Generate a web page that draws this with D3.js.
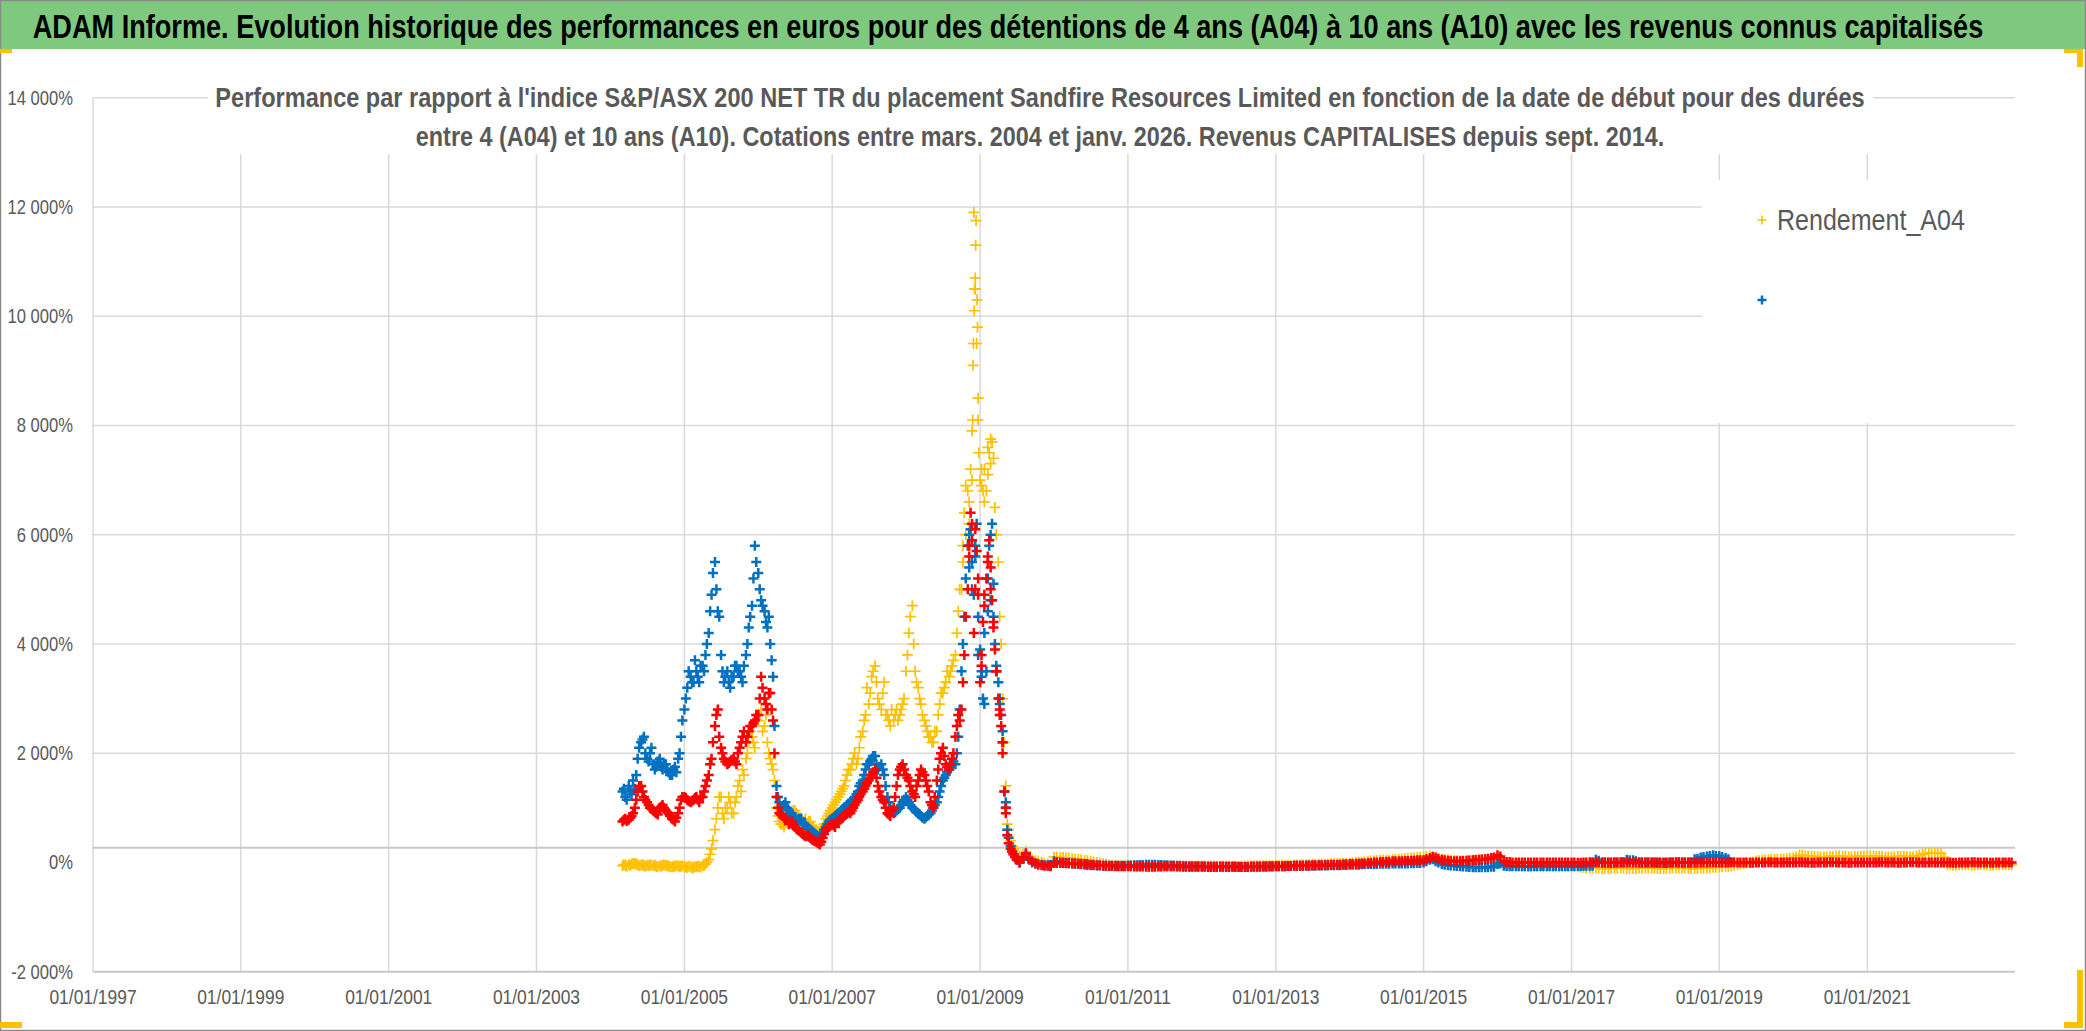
<!DOCTYPE html>
<html><head><meta charset="utf-8">
<script src="https://cdn.jsdelivr.net/npm/d3@7"></script>
<style>html,body{margin:0;padding:0;background:#fff;} svg{display:block;}</style>
</head><body>
<svg id="chart" width="2086" height="1031"></svg>
<script>
// ---------------- DATA ----------------
const titleText = "ADAM Informe. Evolution historique des performances en euros pour des détentions de 4 ans (A04) à 10 ans (A10) avec les revenus connus capitalisés";
const subtitleLines = [
  "Performance par rapport à l'indice S&P/ASX 200 NET TR  du placement Sandfire Resources Limited en fonction de la date de début pour des durées",
  "entre 4 (A04) et 10 ans (A10). Cotations entre mars. 2004 et janv. 2026. Revenus CAPITALISES depuis sept. 2014."
];
const seriesNames = ["Rendement_A04", "Rendement_A07", "Rendement_A10"];
const legendLabels = ["Rendement_A04", ""];
const xTickYears = [1997,1999,2001,2003,2005,2007,2009,2011,2013,2015,2017,2019,2021];
const yTickValues = [-2000,0,2000,4000,6000,8000,10000,12000,14000];
const xDomain = ["1997-01-01","2023-01-01"];
const yDomain = [-2000,14000];
const hAxisLineValue = 270;

// observation dates: 1st and 15th of each month, March 2004 -> Dec 2022
const obsDates = [];
for (let yr = 2004; yr <= 2022; yr++) for (let m = 0; m < 12; m++) {
  if (yr === 2004 && m < 2) continue;
  obsDates.push(new Date(yr, m, 1), new Date(yr, m, 15));
}
// extra observation dates: 8th and 22nd of each month, March 2004 -> June 2009
const midDates = [];
for (let yr = 2004; yr <= 2009; yr++) for (let m = 0; m < 12; m++) {
  if ((yr === 2004 && m < 2) || (yr === 2009 && m > 5)) continue;
  midDates.push(new Date(yr, m, 8), new Date(yr, m, 22));
}

// Rendement_A04 (yellow), % values
const a04 = [
/*2004*/ -60,-50,-40,-30,-20,-40,-50,-60,-50,-40,-60,-70,-60,-50,-60,-70,-80,-70,-60,-70,
/*2005*/ -80,-90,-80,-90,-80,-70,-60,-30,50,250,600,1000,1200,800,1000,1100,900,1200,1500,1700,1900,2200,2300,2100,
/*2006*/ 2600,2800,2500,2200,1900,1700,1000,750,700,800,900,850,950,850,800,750,700,750,650,600,530,650,800,900,
/*2007*/ 1000,1100,1200,1300,1400,1600,1700,1900,1800,2100,2400,2700,2900,3400,3600,3000,2800,3300,2700,2500,2600,2800,2700,2900,
/*2008*/ 3500,4200,4700,3500,3200,2900,2600,2400,2300,2200,2400,2900,3100,3300,3400,3600,3800,4600,5000,6400,6800,7200,11900,9500,
/*2009*/ 7000,6800,6800,7500,7700,6500,5500,4000,2200,700,400,250,150,100,150,200,100,60,30,20,0,-20,-30,-40,
/*2010*/ 100,100,90,90,80,80,70,60,60,50,40,30,20,10,0,-10,-20,-30,-40,-50,-50,-60,-60,-60,
/*2011*/ -60,-60,-60,-65,-65,-65,-65,-70,-70,-70,-70,-70,-70,-70,-70,-70,-70,-70,-70,-70,-70,-70,-70,-70,
/*2012*/ -70,-70,-70,-70,-70,-70,-70,-70,-70,-70,-70,-70,-70,-70,-65,-65,-65,-65,-60,-60,-60,-60,-60,-60,
/*2013*/ -55,-55,-50,-50,-50,-50,-45,-45,-40,-40,-40,-40,-35,-35,-30,-30,-30,-30,-25,-25,-20,-20,-15,-15,
/*2014*/ -10,-5,0,5,10,15,20,25,30,35,40,40,40,45,50,55,60,65,70,75,80,85,90,95,
/*2015*/ 100,110,120,110,80,70,60,55,50,45,40,35,30,30,30,35,40,45,50,55,60,60,60,60,
/*2016*/ 50,30,0,-15,-30,-40,-50,-55,-60,-65,-70,-70,-75,-75,-80,-80,-80,-80,-80,-80,-80,-80,-80,-80,
/*2017*/ -80,-80,-80,-85,-90,-95,-100,-100,-100,-105,-110,-110,-110,-110,-100,-100,-100,-100,-110,-110,-110,-110,-100,-100,
/*2018*/ -100,-100,-100,-100,-110,-110,-110,-110,-100,-100,-100,-100,-100,-100,-110,-110,-110,-110,-100,-100,-100,-100,-90,-90,
/*2019*/ -80,-80,-70,-70,-60,-50,-40,-30,-20,-10,0,10,20,30,40,45,50,55,60,60,60,65,70,75,
/*2020*/ 80,100,130,130,120,120,110,110,100,100,100,100,110,110,120,120,110,110,100,100,110,110,120,120,
/*2021*/ 120,120,110,110,110,110,100,100,100,100,110,110,110,110,100,100,120,130,150,160,170,170,170,170,
/*2022*/ 160,100,-40,-40,-50,-50,-40,-40,-40,-40,-50,-50,-40,-40,-40,-40,-50,-50,-40,-40,-40,-40,-40,-40
];
const a04Mid = [
/*2004*/ -40,-70,-50,-20,-30,-60,-40,-70,-60,-50,-50,-80,-70,-40,-50,-80,-70,-60,-80,-60,
/*2005*/ -90,-70,-100,-80,-70,-90,-50,0,150,400,800,1200,900,1000,1200,900,1100,1400,1300,1600,2000,2400,2200,2600,
/*2006*/ 2700,2400,2700,2000,1800,1500,850,700,650,900,800,950,900,800,700,800,750,650,600,550,600,700,850,950,
/*2007*/ 1050,1150,1250,1350,1500,1700,1800,2000,1900,2300,2600,3200,3100,3500,3300,2900,3100,2700,2600,2800,2700,2600,2800,3000,
/*2008*/ 3800,4500,4000,3300,3000,2700,2500,2300,2200,2400,2700,3100,3200,3500,3500,3700,4200,5000,5500,6000,6600,7000,10500,8500,
/*2009*/ 7200,6600,7100,7300,7400,6000,4500,3000,1400,600,300,200
];
// Rendement_A07 (blue)
const a07 = [
/*2004*/ 1300,1200,1400,1250,1350,1900,2200,2300,1900,2000,1800,1750,1900,1700,1800,1650,1600,1750,1900,2300,
/*2005*/ 2800,3200,3400,3300,3500,3300,3600,3800,4200,4900,5500,4600,3800,3300,3500,3200,3400,3600,3500,3300,3800,4300,4700,5800,
/*2006*/ 5300,4800,4600,4300,4000,3400,1400,1100,1000,1100,950,900,800,750,800,700,650,600,550,500,420,550,650,750,
/*2007*/ 800,850,900,950,1000,1050,1100,1150,1250,1400,1500,1700,1800,1900,1950,1700,1800,1600,1200,1000,900,950,1000,1100,
/*2008*/ 1200,1100,1000,950,900,850,800,850,900,1000,1100,1300,1500,1600,1700,1800,1800,2300,3500,4500,5800,6100,4900,6200,
/*2009*/ 3900,3000,3500,5800,6200,4000,3300,2700,1300,600,300,150,50,0,100,150,50,0,-20,-30,-40,-50,-50,-60,
/*2010*/ 20,10,0,0,-10,-15,-20,-25,-30,-35,-40,-45,-50,-50,-55,-55,-60,-60,-60,-60,-60,-60,-60,-60,
/*2011*/ -55,-55,-50,-50,-45,-45,-40,-40,-40,-40,-45,-45,-50,-50,-55,-55,-60,-60,-65,-65,-70,-70,-70,-70,
/*2012*/ -70,-70,-75,-75,-75,-75,-75,-75,-80,-80,-80,-80,-80,-80,-80,-80,-75,-75,-75,-75,-70,-70,-70,-70,
/*2013*/ -70,-70,-70,-70,-65,-65,-60,-60,-60,-60,-60,-60,-60,-60,-55,-55,-55,-55,-50,-50,-50,-50,-45,-45,
/*2014*/ -40,-40,-40,-40,-35,-35,-30,-30,-30,-30,-25,-25,-25,-25,-20,-20,-20,-20,-20,-20,-15,-15,-10,-10,
/*2015*/ 0,20,50,60,20,0,-30,-40,-50,-55,-60,-65,-70,-75,-80,-85,-90,-90,-90,-90,-90,-90,-80,-80,
/*2016*/ -30,-20,-60,-65,-70,-70,-70,-70,-70,-70,-70,-70,-65,-65,-65,-65,-65,-65,-65,-65,-65,-65,-65,-65,
/*2017*/ -65,-65,-65,-65,-60,-60,-60,-60,50,30,0,0,0,0,0,0,0,0,50,40,40,20,0,0,
/*2018*/ 0,0,0,0,0,0,-10,-10,0,0,0,0,0,0,0,0,60,70,90,100,110,120,130,120,
/*2019*/ 120,100,80,60
];
const a07Mid = [
/*2004*/ 1350,1150,1300,1500,1600,2100,2250,2000,1850,2100,1700,1850,1750,1800,1700,1600,1700,1650,2000,2600,
/*2005*/ 3000,3500,3300,3700,3400,3600,3500,4000,4600,5300,5000,4500,3500,3400,3300,3400,3600,3500,3400,3600,4000,4500,5200,5500,
/*2006*/ 5000,4700,4400,4500,3700,2500,1200,1000,1050,1000,900,850,780,800,720,680,620,580,520,460,480,600,700,780,
/*2007*/ 820,880,920,980,1020,1080,1120,1200,1300,1450,1600,1800,1850,1950,1800,1750,1700,1400,1100,950,920,980,1050,1150,
/*2008*/ 1150,1050,980,920,880,820,830,880,950,1050,1200,1400,1550,1650,1750,1850,2000,2800,4000,5200,6000,5500,5800,4500,
/*2009*/ 3400,4200,5200,4800,4500,3500,3000,2400,1000,450,200,100
];
// Rendement_A10 (red)
const a10 = [
/*2004*/ 750,800,780,850,1000,1300,1400,1200,1100,1000,950,900,1000,1050,950,900,800,750,900,1150,
/*2005*/ 1200,1150,1100,1150,1200,1100,1200,1400,1600,1900,2500,2800,2100,1900,1800,1850,1900,1800,2100,2300,2200,2400,2500,2600,
/*2006*/ 2700,3400,3000,2800,3100,2600,1200,900,850,800,700,750,650,600,550,500,500,450,400,380,330,450,600,650,
/*2007*/ 700,650,750,800,850,900,900,1000,1100,1200,1300,1400,1500,1600,1700,1400,1200,1100,900,850,1000,1400,1700,1800,
/*2008*/ 1600,1500,1300,1200,1500,1700,1600,1400,1100,1000,1500,1900,2100,1800,1700,1900,2300,2700,2800,3800,5000,6400,4200,5700,
/*2009*/ 3300,4400,5200,5900,4800,3900,3000,2500,1300,500,250,150,50,0,100,170,60,20,-20,-40,-50,-60,-60,-70,
/*2010*/ -10,-10,-10,-10,-15,-15,-20,-20,-25,-25,-30,-30,-40,-40,-50,-50,-60,-60,-65,-65,-70,-70,-70,-70,
/*2011*/ -70,-70,-75,-75,-75,-75,-80,-80,-80,-80,-75,-75,-70,-70,-70,-70,-75,-75,-80,-80,-80,-80,-80,-80,
/*2012*/ -80,-80,-85,-85,-85,-85,-80,-80,-80,-80,-80,-80,-85,-85,-85,-85,-80,-80,-80,-80,-80,-80,-75,-75,
/*2013*/ -70,-70,-70,-70,-65,-65,-60,-60,-60,-60,-55,-55,-50,-50,-50,-50,-45,-45,-40,-40,-40,-40,-35,-35,
/*2014*/ -30,-30,-25,-25,-20,-20,-10,-10,0,0,10,10,15,15,20,20,20,20,25,25,30,30,40,40,
/*2015*/ 40,60,80,100,90,70,50,40,30,25,20,20,20,25,30,35,40,45,50,55,60,70,80,90,
/*2016*/ 130,110,20,10,10,0,0,0,0,0,0,0,0,0,0,0,0,0,0,0,0,0,0,0,
/*2017*/ 0,0,-5,-5,0,0,5,5,0,0,0,0,-5,-5,0,0,5,5,0,0,0,0,0,0,
/*2018*/ 0,0,0,0,-5,-5,0,0,0,0,5,5,0,0,0,0,-5,-5,0,0,0,5,5,0,
/*2019*/ 0,0,0,0,5,5,0,0,0,0,-5,-5,0,0,0,0,5,5,0,0,0,0,0,0,
/*2020*/ 0,0,5,5,0,0,-5,-5,0,0,0,0,5,5,0,0,0,0,-5,-5,0,0,0,0,
/*2021*/ 0,0,0,0,5,5,0,0,0,0,-5,-5,0,0,5,5,0,0,0,0,0,0,0,0,
/*2022*/ 0,0,0,0,-5,-5,0,0,0,0,5,5,0,0,0,0,-5,-5,0,0,0,0,0,0
];
const a10Mid = [
/*2004*/ 780,760,820,900,1150,1400,1300,1150,1050,980,920,880,1020,1000,920,850,780,820,1000,1200,
/*2005*/ 1180,1120,1130,1180,1150,1200,1300,1500,1800,2200,2700,2300,2000,1850,1820,1880,1850,2000,2200,2400,2300,2500,2550,2700,
/*2006*/ 3000,3200,2900,3100,2800,2000,1000,880,820,780,720,680,620,580,520,480,470,420,390,350,380,520,620,680,
/*2007*/ 680,720,780,820,880,920,950,1050,1150,1250,1350,1450,1550,1650,1550,1300,1150,1000,880,950,1200,1600,1750,1700,
/*2008*/ 1550,1400,1250,1400,1600,1650,1500,1300,1050,1200,1700,2000,1950,1750,1800,2000,2500,2600,3300,4500,5800,6200,5000,5200,
/*2009*/ 3800,4900,5600,5400,4300,3500,2800,2200,900,350,200,100
];
// extra readings in the dense 2008-2009 peak
const a04PeakDates = ["2008-10-08","2008-10-22","2008-11-08","2008-11-22","2008-11-25","2008-11-27","2008-11-29","2008-12-03","2008-12-05","2008-12-08","2008-12-10","2008-12-12","2008-12-17","2008-12-19","2008-12-22","2008-12-26","2009-01-08","2009-01-22","2009-02-08","2009-02-22"];
const a04PeakValues = [5800,6900,6200,7900,8100,9100,9500,10100,10500,10700,11300,11750,10300,9800,8100,7500,6900,7200,7600,7750];
const a07PeakDates = ["2008-11-08","2008-11-22","2008-12-08","2008-12-22","2009-01-08","2009-01-22","2009-02-08","2009-02-22","2009-03-08","2009-03-22","2009-04-08","2009-04-22","2009-05-08"];
const a07PeakValues = [5400,5000,5600,3800,3500,2900,4600,6000,5100,3600,2900,2200,1100];
const a10PeakDates = ["2008-11-08","2008-11-22","2008-12-08","2008-12-22","2009-01-08","2009-01-22","2009-02-08","2009-02-22","2009-03-08","2009-03-22","2009-04-08","2009-04-22","2009-05-08"];
const a10PeakValues = [5600,5900,6100,4900,3600,4700,5500,5000,4400,3500,2700,2000,1000];

const colors = ["#FFC000", "#0070C0", "#FF0000"];

// ---------------- DRAWING ----------------
const FONT = "'Liberation Sans',Arial,sans-serif";
const svg = d3.select("#chart");
const P = {left: 93, right: 2015, top: 97.7, bottom: 971.7};
const parse = d3.timeParse("%Y-%m-%d");
const x = d3.scaleTime().domain(xDomain.map(parse)).range([P.left, P.right]);
const y = d3.scaleLinear().domain(yDomain).range([P.bottom, P.top]);

// horizontal squeeze of a text (Calibri-like narrow look) using a transform
function squeeze(sel, f, target) {
  sel.each(function() {
    const t = d3.select(this);
    const px = +t.attr("x") || 0, py = +t.attr("y") || 0;
    const k = target ? target / this.getComputedTextLength() : f;
    t.attr("x", 0).attr("y", 0).attr("transform", `translate(${px},${py}) scale(${k},1)`);
  });
}

svg.append("rect").attr("width", 2086).attr("height", 1031).attr("fill", "#fff");

// title band
svg.append("rect").attr("x", 0).attr("y", 0).attr("width", 2086).attr("height", 49).attr("fill", "#7FC97F");
svg.append("text").attr("x", 1008).attr("y", 38).attr("text-anchor", "middle")
  .attr("font-family", FONT).attr("font-weight", "bold").attr("font-size", 34).attr("fill", "#000")
  .text(titleText).call(squeeze, null, 1951);

// grid
const gGrid = svg.append("g");
const xTicks = xTickYears.map(yr => new Date(yr, 0, 1));
gGrid.selectAll(".vg").data(xTicks.slice(1)).join("line")
  .attr("x1", d => x(d)).attr("x2", d => x(d)).attr("y1", P.top).attr("y2", P.bottom)
  .attr("stroke", "#d9d9d9").attr("stroke-width", 1.5);
gGrid.selectAll(".hg").data(yTickValues.filter(v => v > yDomain[0] && v !== 0)).join("line")
  .attr("x1", P.left).attr("x2", P.right).attr("y1", d => y(d)).attr("y2", d => y(d))
  .attr("stroke", "#d9d9d9").attr("stroke-width", 1.5);
gGrid.append("line").attr("x1", P.left).attr("x2", P.left).attr("y1", P.top).attr("y2", P.bottom)
  .attr("stroke", "#d9d9d9").attr("stroke-width", 1.5);
gGrid.append("line").attr("x1", P.left).attr("x2", P.right).attr("y1", y(yDomain[0])).attr("y2", y(yDomain[0]))
  .attr("stroke", "#c8c8c8").attr("stroke-width", 2);
gGrid.append("line").attr("x1", P.left).attr("x2", P.right).attr("y1", y(hAxisLineValue)).attr("y2", y(hAxisLineValue))
  .attr("stroke", "#c8c8c8").attr("stroke-width", 2);

// axis labels
const fr = d3.formatLocale({decimal: ",", thousands: "\u00a0", grouping: [3], currency: ["", "€"], minus: "-"});
const fmtY = v => fr.format(",")(v) + "%";
svg.append("g").selectAll("text").data(yTickValues).join("text")
  .attr("x", 73).attr("y", d => y(d) + 7).attr("text-anchor", "end")
  .attr("font-family", FONT).attr("font-size", 20).attr("fill", "#595959").text(fmtY)
  .call(squeeze, 0.83);
const fmtX = d3.timeFormat("%d/%m/%Y");
svg.append("g").selectAll("text").data(xTicks).join("text")
  .attr("x", d => x(d)).attr("y", 1004).attr("text-anchor", "middle")
  .attr("font-family", FONT).attr("font-size", 21).attr("fill", "#595959").text(fmtX)
  .call(squeeze, 0.83);

// series
function pts(vals, dates) { return vals.map((v, i) => ({d: dates[i], v})).filter(p => p.v != null); }
const series = [
  {pts: pts(a04, obsDates).concat(pts(a04Mid, midDates), pts(a04PeakValues, a04PeakDates.map(parse))), color: colors[0], r: 5.5, sw: 1.7},
  {pts: pts(a07, obsDates).concat(pts(a07Mid, midDates), pts(a07PeakValues, a07PeakDates.map(parse))), color: colors[1], r: 5, sw: 2.5},
  {pts: pts(a10, obsDates).concat(pts(a10Mid, midDates), pts(a10PeakValues, a10PeakDates.map(parse))), color: colors[2], r: 5, sw: 2.5}
];
const gData = svg.append("g");
series.forEach(s => {
  gData.append("g").selectAll("path").data(s.pts).join("path")
    .attr("transform", p => `translate(${x(p.d)},${y(p.v)})`)
    .attr("d", `M${-s.r},0H${s.r}M0,${-s.r}V${s.r}`)
    .attr("stroke", s.color).attr("stroke-width", s.sw).attr("fill", "none");
});

// subtitle box
svg.append("rect").attr("x", 208).attr("y", 72).attr("width", 1665).attr("height", 82).attr("fill", "#fff");
const subY = [107, 146];
const subW = [1650, 1249];
subtitleLines.forEach((t, i) => {
  svg.append("text").attr("x", 1040).attr("y", subY[i]).attr("text-anchor", "middle")
    .attr("font-family", FONT).attr("font-weight", "bold").attr("font-size", 27).attr("fill", "#595959")
    .text(t).call(squeeze, null, subW[i]);
});

// legend
svg.append("rect").attr("x", 1702).attr("y", 180).attr("width", 313).attr("height", 243).attr("fill", "#fff");
const legY = [220, 300];
legendLabels.forEach((t, i) => {
  svg.append("path").attr("transform", `translate(1762,${legY[i]})`)
    .attr("d", "M-4.5,0H4.5M0,-4.5V4.5").attr("stroke", colors[i]).attr("stroke-width", i === 0 ? 1.5 : 2.5);
  if (t) svg.append("text").attr("x", 1777).attr("y", legY[i] + 10).attr("font-family", FONT)
    .attr("font-size", 29).attr("fill", "#595959").text(t).call(squeeze, null, 188);
});

// outer frame and corner handles
svg.append("rect").attr("x", 0.5).attr("y", 0.5).attr("width", 2085).attr("height", 1030)
  .attr("fill", "none").attr("stroke", "#8a8a8a").attr("stroke-width", 1.5);
const hc = "#FFC000";
svg.append("rect").attr("x", 0).attr("y", 49).attr("width", 12).attr("height", 4).attr("fill", hc);
svg.append("rect").attr("x", 0).attr("y", 1022).attr("width", 22).attr("height", 6).attr("fill", hc);
svg.append("rect").attr("x", 2064).attr("y", 49).attr("width", 19).attr("height", 4).attr("fill", hc);
svg.append("rect").attr("x", 2077).attr("y", 49).attr("width", 6).attr("height", 18).attr("fill", hc);
svg.append("rect").attr("x", 2077).attr("y", 970).attr("width", 6).attr("height", 58).attr("fill", hc);
svg.append("rect").attr("x", 2064).attr("y", 1022).attr("width", 19).attr("height", 6).attr("fill", hc);
</script>
</body></html>
